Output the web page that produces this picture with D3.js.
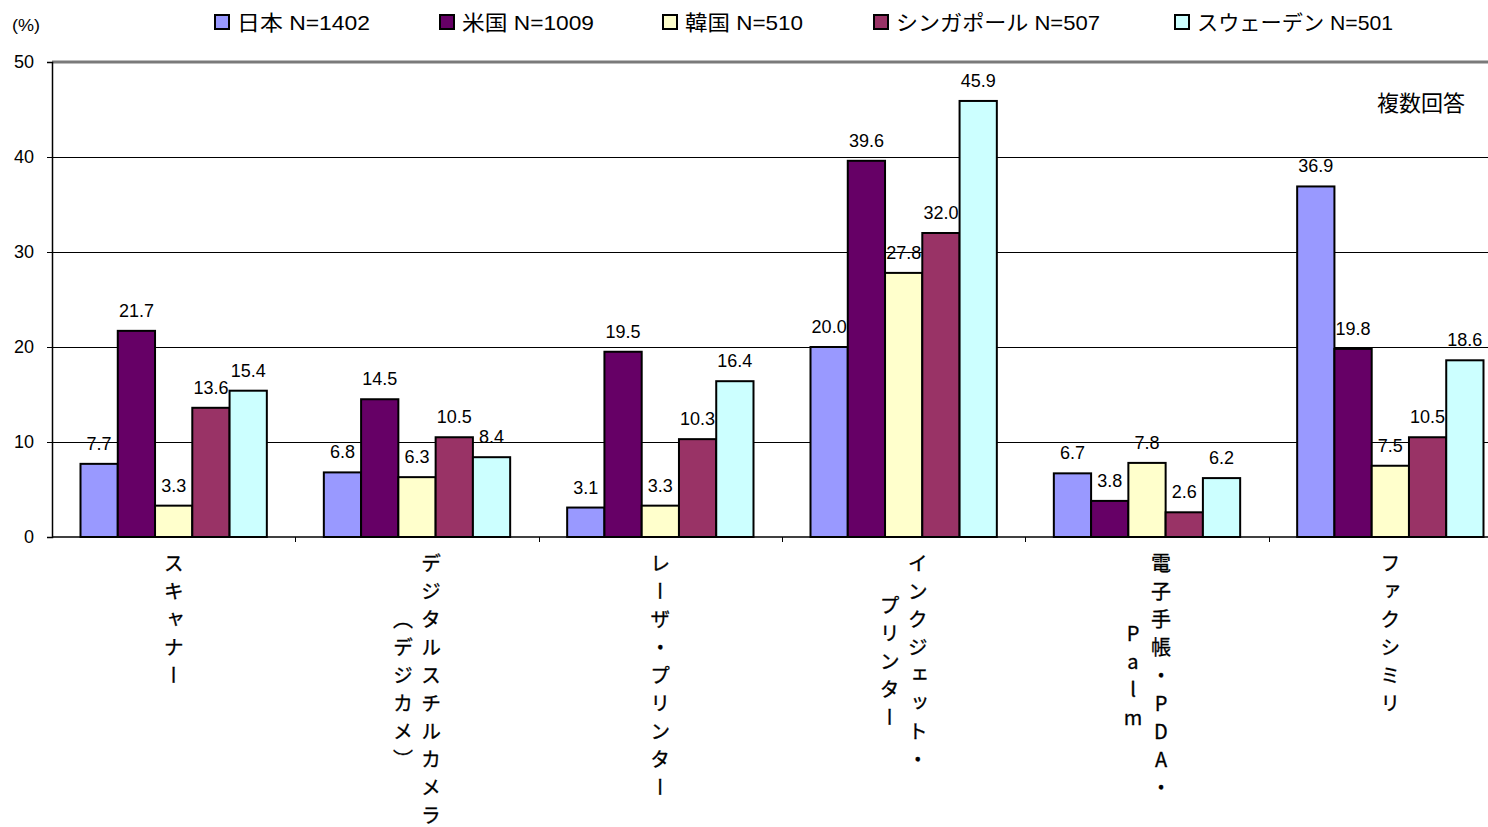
<!DOCTYPE html>
<html lang="ja">
<head>
<meta charset="utf-8">
<script src="https://cdn.jsdelivr.net/npm/d3@7/dist/d3.min.js"></script>
<style>
  html, body { margin: 0; padding: 0; background: #fff; overflow: hidden; }
  svg { display: block; }
  .num { font-family: "Liberation Sans", Arial, sans-serif; }
  .jp { font-family: "Noto Sans CJK JP", "Noto Sans", sans-serif; }
  .mix { font-family: "Liberation Sans", Arial, "Noto Sans CJK JP", sans-serif; }
</style>
</head>
<body>
<svg id="chart" width="1488" height="827"></svg>
<script>
// Device categories (each entry is one or more columns of vertical text)
const categories = ["スキャナー", "デジタルスチルカメラ", "レーザ・プリンター", "インクジェット・プリンター", "電子手帳・PDA・Palm", "ファクシミリ"];
const categoryLines = [
  ["スキャナー"],
  ["デジタルスチルカメラ", "（デジカメ）"],
  ["レーザ・プリンター"],
  ["インクジェット・", "プリンター"],
  ["電子手帳・PDA・", "Palm"],
  ["ファクシミリ"]
];

// Countries with sample sizes
const seriesNames = ["日本 N=1402", "米国 N=1009", "韓国 N=510", "シンガポール N=507", "スウェーデン N=501"];
const seriesColors = ["#9999FF", "#660066", "#FFFFCC", "#993366", "#CCFFFF"];

// Share owning each device (%), one array per country, in category order
const japan     = [7.7, 6.8, 3.1, 20.0, 6.7, 36.9];
const usa       = [21.7, 14.5, 19.5, 39.6, 3.8, 19.8];
const korea     = [3.3, 6.3, 3.3, 27.8, 7.8, 7.5];
const singapore = [13.6, 10.5, 10.3, 32.0, 2.6, 10.5];
const sweden    = [15.4, 8.4, 16.4, 45.9, 6.2, 18.6];
const seriesValues = [japan, usa, korea, singapore, sweden];

const yTicks = [0, 10, 20, 30, 40, 50];

const svg = d3.select("#chart");

const plot = { left: 52, top: 62, bottom: 537, right: 1512 };

const x0 = d3.scaleBand()
  .domain(categories)
  .range([plot.left, plot.right])
  .paddingInner(0).paddingOuter(0);

const x1 = d3.scaleBand()
  .domain(d3.range(seriesNames.length))
  .range([28.5, x0.bandwidth() - 28.5])
  .padding(0);

const y = d3.scaleLinear().domain([0, 50]).range([plot.bottom, plot.top]);

// Horizontal gridlines
svg.append("g")
  .selectAll("line")
  .data(yTicks.filter(t => t > 0 && t < 50))
  .join("line")
  .attr("x1", plot.left).attr("x2", plot.right)
  .attr("y1", d => Math.round(y(d)) + 0.5).attr("y2", d => Math.round(y(d)) + 0.5)
  .attr("stroke", "#000").attr("stroke-width", 1);

// Top border of the plot area
svg.append("line")
  .attr("x1", plot.left).attr("x2", plot.right)
  .attr("y1", y(50)).attr("y2", y(50))
  .attr("stroke", "#7a7a7a").attr("stroke-width", 3);

// Y axis
const yAxis = d3.axisLeft(y).tickValues(yTicks).tickSize(5).tickPadding(13).tickFormat(d3.format("d"));
const gy = svg.append("g").attr("transform", `translate(${plot.left},0)`).call(yAxis);
gy.select(".domain").attr("stroke", "#000").attr("stroke-width", 1.5);
gy.selectAll(".tick line").attr("stroke", "#000");
gy.selectAll(".tick text")
  .attr("class", "num")
  .attr("font-size", 18)
  .attr("fill", "#000");

// X axis (tick marks between categories)
svg.append("line")
  .attr("x1", plot.left).attr("x2", plot.right)
  .attr("y1", plot.bottom).attr("y2", plot.bottom)
  .attr("stroke", "#000").attr("stroke-width", 1.5);
svg.append("g")
  .selectAll("line")
  .data(categories.slice(1))
  .join("line")
  .attr("x1", d => Math.round(x0(d)) + 0.5).attr("x2", d => Math.round(x0(d)) + 0.5)
  .attr("y1", plot.bottom).attr("y2", plot.bottom + 5)
  .attr("stroke", "#000");

// Bars
const groups = svg.append("g")
  .selectAll("g")
  .data(categories)
  .join("g")
  .attr("transform", d => `translate(${x0(d)},0)`);

groups.selectAll("rect")
  .data((d, ci) => seriesValues.map((vals, si) => ({ si, v: vals[ci] })))
  .join("rect")
  .attr("x", d => x1(d.si))
  .attr("width", x1.bandwidth())
  .attr("y", d => y(d.v))
  .attr("height", d => y(0) - y(d.v))
  .attr("fill", d => seriesColors[d.si])
  .attr("stroke", "#000")
  .attr("stroke-width", 2);

// Value labels
groups.selectAll("text.val")
  .data((d, ci) => seriesValues.map((vals, si) => ({ si, v: vals[ci] })))
  .join("text")
  .attr("class", "val num")
  .attr("x", d => x1(d.si) + x1.bandwidth() / 2)
  .attr("y", d => y(d.v) - 14)
  .attr("text-anchor", "middle")
  .attr("font-size", 18)
  .attr("fill", "#000")
  .text(d => d.v.toFixed(1));

// Category labels in vertical text; columns run right to left, centered on the longest one
const labelTop = 553;
const colGap = 28;
categories.forEach((c, ci) => {
  const lines = categoryLines[ci];
  const cx = x0(c) + x0.bandwidth() / 2;
  const n = lines.length;
  const g = svg.append("g");
  const texts = lines.map((ln, li) => {
    const colX = cx + ((n - 1) / 2 - li) * colGap;
    return g.append("text")
      .attr("class", "jp")
      .attr("x", colX)
      .attr("y", labelTop)
      .attr("font-size", 20)
      .attr("fill", "#000")
      .attr("stroke", "#000")
      .attr("stroke-width", 0.3)
      .style("writing-mode", "vertical-rl")
      .style("text-orientation", "upright")
      .style("letter-spacing", "8px")
      .text(ln);
  });
  const lens = texts.map(t => t.node().getComputedTextLength());
  const maxLen = d3.max(lens);
  texts.forEach((t, i) => t.attr("y", labelTop + (maxLen - lens[i]) / 2));
});

// Unit label
svg.append("text")
  .attr("class", "num")
  .attr("x", 12).attr("y", 31)
  .attr("font-size", 16)
  .attr("textLength", 28)
  .attr("lengthAdjust", "spacingAndGlyphs")
  .text("(%)");

// Note
svg.append("text")
  .attr("class", "jp")
  .attr("x", 1465).attr("y", 111)
  .attr("text-anchor", "end")
  .attr("font-size", 22)
  .text("複数回答");

// Legend
const legendX = [215, 440, 663, 874, 1175];
const legendW = [133, 132, 118, 204, 196];
const legend = svg.append("g")
  .selectAll("g")
  .data(seriesNames)
  .join("g")
  .attr("transform", (d, i) => `translate(${legendX[i]},15)`);
legend.append("rect")
  .attr("width", 14).attr("height", 14)
  .attr("fill", (d, i) => seriesColors[i])
  .attr("stroke", "#000").attr("stroke-width", 2);
legend.append("text")
  .attr("class", "mix")
  .attr("x", 22).attr("y", 15)
  .attr("font-size", 21)
  .attr("textLength", (d, i) => legendW[i])
  .attr("lengthAdjust", "spacingAndGlyphs")
  .text(d => d);
</script>
</body>
</html>
